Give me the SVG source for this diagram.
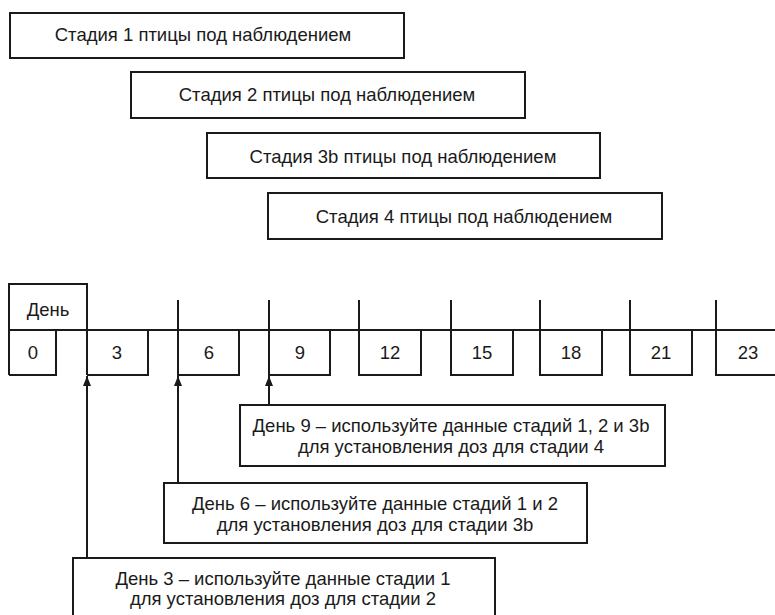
<svg xmlns="http://www.w3.org/2000/svg" width="775" height="615" viewBox="0 0 775 615">
<style>
.b{fill:#fff;stroke:#1a1a1a;stroke-width:2}
.l{fill:none;stroke:#1a1a1a;stroke-width:2}
.t{font-family:"Liberation Sans",Arial,sans-serif;font-size:18.5px;fill:#1a1a1a;text-anchor:middle;dominant-baseline:central}
</style>
<defs>
<marker id="ah" markerWidth="10" markerHeight="10" refX="10" refY="5" orient="auto" markerUnits="userSpaceOnUse" viewBox="0 0 10 10">
<path d="M0,1 L10,5 L0,9 Z" fill="#1a1a1a"/>
</marker>
</defs>
<rect width="775" height="615" fill="#fff"/>
<g id="stage1"><rect class="b" x="10" y="13" width="394" height="45"/><text class="t" x="203" y="34">Стадия 1 птицы под наблюдением</text></g>
<g id="stage2"><rect class="b" x="131" y="72" width="394" height="46"/><text class="t" x="327" y="94">Стадия 2 птицы под наблюдением</text></g>
<g id="stage3b"><rect class="b" x="207" y="133" width="393" height="45"/><text class="t" x="403" y="156">Стадия 3b птицы под наблюдением</text></g>
<g id="stage4"><rect class="b" x="268" y="193" width="394" height="46"/><text class="t" x="464" y="216">Стадия 4 птицы под наблюдением</text></g>
<g id="timeline">
<path class="l" d="M9,375 V284 H87 V375 M9,330 H775 M9,375 H56 V330 M87,375 H148 V330"/>
<path class="l" d="M178,300 V375 H239 V330 M269,300 V375 H330 V330 M359,300 V375 H421 V330 M451,300 V375 H513 V330 M540,300 V375 H602 V330 M630,300 V375 H692 V330 M716,300 V375 H775"/>
<text class="t" x="48" y="309">День</text>
<text class="t" x="33" y="352">0</text>
<text class="t" x="117" y="352">3</text>
<text class="t" x="209" y="352">6</text>
<text class="t" x="300" y="352">9</text>
<text class="t" x="390" y="352">12</text>
<text class="t" x="482" y="352">15</text>
<text class="t" x="571" y="352">18</text>
<text class="t" x="661" y="352">21</text>
<text class="t" x="748" y="352">23</text>
</g>
<g id="connectors">
<line class="l" x1="87" y1="558" x2="87" y2="376" marker-end="url(#ah)"/>
<line class="l" x1="178" y1="483" x2="178" y2="376" marker-end="url(#ah)"/>
<line class="l" x1="269" y1="405" x2="269" y2="376" marker-end="url(#ah)"/>
</g>
<g id="note9"><rect class="b" x="240" y="405" width="425" height="61"/><text class="t" x="451" y="425">День 9 – используйте данные стадий 1, 2 и 3b</text><text class="t" x="451" y="446">для установления доз для стадии 4</text></g>
<g id="note6"><rect class="b" x="164" y="483" width="423" height="60"/><text class="t" x="375" y="503">День 6 – используйте данные стадий 1 и 2</text><text class="t" x="375" y="524">для установления доз для стадии 3b</text></g>
<g id="note3"><rect class="b" x="73" y="558" width="422" height="70"/><text class="t" x="283" y="578">День 3 – используйте данные стадии 1</text><text class="t" x="283" y="598">для установления доз для стадии 2</text></g>
</svg>
